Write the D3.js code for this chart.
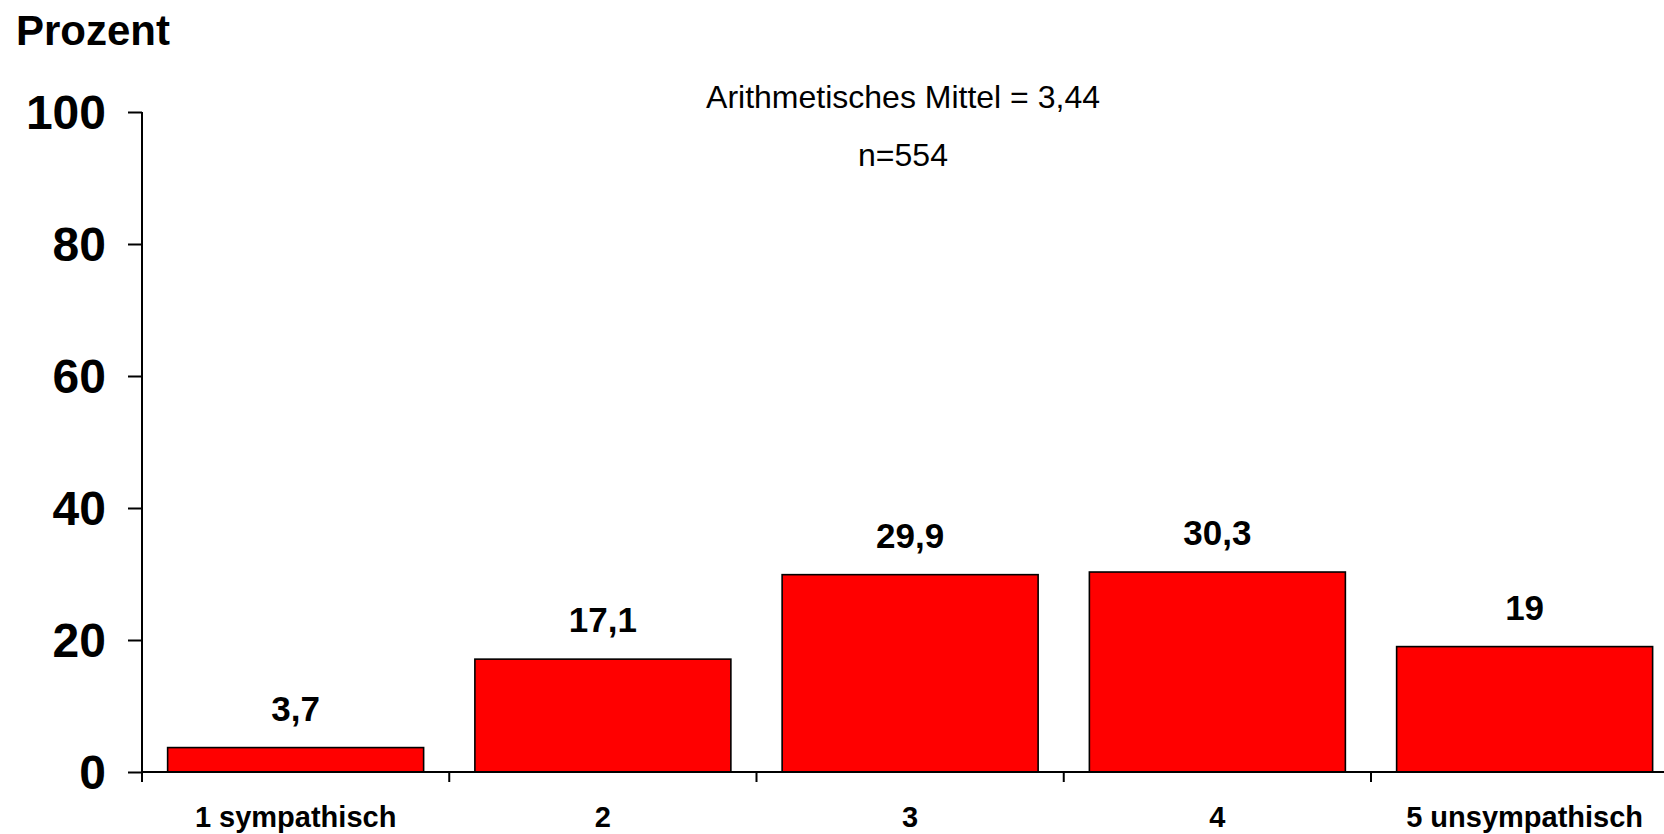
<!DOCTYPE html>
<html>
<head>
<meta charset="utf-8">
<script src="https://cdn.jsdelivr.net/npm/d3@7"></script>
<style>
  html, body { margin: 0; padding: 0; background: #fff; overflow: hidden; }
  svg { display: block; font-family: "Liberation Sans", Arial, sans-serif; }
</style>
</head>
<body>
<svg id="chart" width="1664" height="834"></svg>
<script>
const categories = ["1 sympathisch", "2", "3", "4", "5 unsympathisch"];
const values = [3.7, 17.1, 29.9, 30.3, 19];
const valueLabels = ["3,7", "17,1", "29,9", "30,3", "19"];
const yTicks = [0, 20, 40, 60, 80, 100];
const yTitle = "Prozent";
const noteLines = ["Arithmetisches Mittel = 3,44", "n=554"];

const svg = d3.select("#chart");
const left = 142, step = 307.25, y0 = 772, yTop = 112;

const x = d3.scaleBand()
  .domain(categories)
  .range([left, left + step * categories.length])
  .paddingInner(0.1668)
  .paddingOuter(0.0834);

const y = d3.scaleLinear().domain([0, 100]).range([y0, yTop]);

// bars
svg.append("g").selectAll("rect")
  .data(values)
  .join("rect")
  .attr("x", (d, i) => x(categories[i]))
  .attr("y", d => y(d))
  .attr("width", x.bandwidth())
  .attr("height", d => y(0) - y(d))
  .attr("fill", "#ff0000")
  .attr("stroke", "#000")
  .attr("stroke-width", 1.6);

// value labels
svg.append("g").selectAll("text")
  .data(values)
  .join("text")
  .attr("x", (d, i) => x(categories[i]) + x.bandwidth() / 2)
  .attr("y", d => y(d) - 27)
  .attr("text-anchor", "middle")
  .attr("font-size", 35)
  .attr("font-weight", "bold")
  .text((d, i) => valueLabels[i]);

// y axis
const yAxis = d3.axisLeft(y).tickValues(yTicks).tickSize(14).tickPadding(22)
  .tickFormat(d3.format("d"));
const gy = svg.append("g").attr("transform", `translate(${left},0)`).call(yAxis);
gy.select(".domain").remove();
gy.selectAll(".tick line").attr("stroke", "#000").attr("stroke-width", 2);
gy.selectAll(".tick text")
  .attr("font-size", 48).attr("font-weight", "bold").attr("fill", "#000")
  .attr("font-family", "Liberation Sans, Arial, sans-serif")
  .attr("dy", "0.35em");
svg.append("line")
  .attr("x1", left).attr("x2", left)
  .attr("y1", y(100)).attr("y2", y0 + 10)
  .attr("stroke", "#000").attr("stroke-width", 2);

// x axis
const xAxis = d3.axisBottom(x).tickSize(0).tickPadding(0);
const gx = svg.append("g").attr("transform", `translate(0,${y0})`).call(xAxis);
gx.select(".domain").remove();
gx.selectAll(".tick text")
  .attr("font-size", 29).attr("font-weight", "bold").attr("fill", "#000")
  .attr("font-family", "Liberation Sans, Arial, sans-serif")
  .attr("dy", null)
  .attr("y", 55);
svg.append("line")
  .attr("x1", left).attr("x2", left + step * categories.length)
  .attr("y1", y0).attr("y2", y0)
  .attr("stroke", "#000").attr("stroke-width", 2);
const boundaries = d3.range(categories.length + 1).map(i => left + i * x.step());
svg.append("g").selectAll("line")
  .data(boundaries)
  .join("line")
  .attr("x1", d => d).attr("x2", d => d)
  .attr("y1", y0).attr("y2", y0 + 10)
  .attr("stroke", "#000").attr("stroke-width", 2);

// titles
svg.append("text")
  .attr("x", 16).attr("y", 45)
  .attr("font-size", 42).attr("font-weight", "bold")
  .text(yTitle);

svg.append("g").selectAll("text")
  .data(noteLines)
  .join("text")
  .attr("x", 903)
  .attr("y", (d, i) => 108 + i * 58)
  .attr("text-anchor", "middle")
  .attr("font-size", 32)
  .text(d => d);
</script>
</body>
</html>
